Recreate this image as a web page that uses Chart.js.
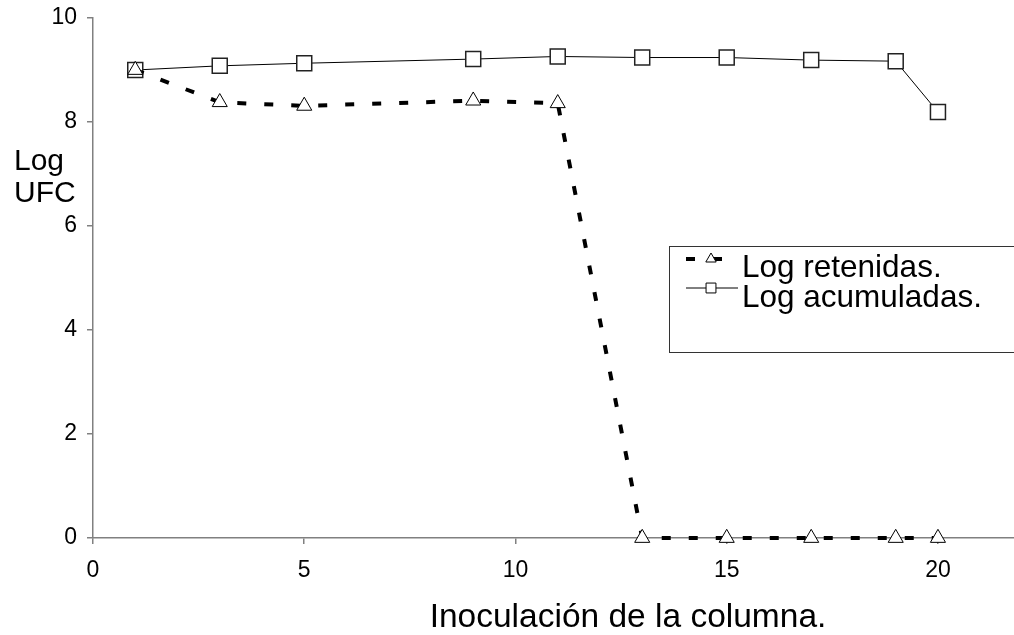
<!DOCTYPE html>
<html>
<head>
<meta charset="utf-8">
<script src="https://cdn.jsdelivr.net/npm/chart.js@4"></script>
<style>
  html, body { margin: 0; padding: 0; background: #fff; }
  canvas { display: block; }
</style>
</head>
<body>
<canvas id="grafico" width="1014" height="635"></canvas>
<script>
// datos
const columnas = [1, 3, 5, 9, 11, 13, 15, 17, 19, 20];
const logRetenidas = [9.0, 8.38, 8.31, 8.41, 8.36, 0, 0, 0, 0, 0];
const logAcumuladas = [9.0, 9.08, 9.13, 9.21, 9.26, 9.24, 9.24, 9.19, 9.17, 8.19];
const ticksX = [0, 5, 10, 15, 20];
const ticksY = [0, 2, 4, 6, 8, 10];
const nombresSeries = ['Log retenidas.', 'Log acumuladas.'];
const tituloX = 'Inoculación de la columna.';
const tituloY = ['Log', 'UFC'];

const fuente = '"Liberation Sans", Arial, sans-serif';
Chart.defaults.font.family = fuente;
Chart.defaults.color = '#000';

function puntos(valores) {
    return columnas.map((c, i) => ({ x: c, y: valores[i] }));
}

// titulos de ejes dibujados a mano (el de X no esta centrado en el area)
const titulos = {
    id: 'titulos',
    afterDraw(chart) {
        const ctx = chart.ctx;
        ctx.save();
        ctx.fillStyle = '#000';
        ctx.textBaseline = 'alphabetic';
        ctx.font = '33.5px ' + fuente;
        ctx.textAlign = 'center';
        ctx.fillText(tituloX, 628, 627);
        ctx.font = '30px ' + fuente;
        ctx.textAlign = 'left';
        tituloY.forEach((t, i) => ctx.fillText(t, 14, 170 + i * 32));
        ctx.restore();
    }
};

// leyenda en recuadro dentro del area del grafico
const leyenda = {
    id: 'leyenda',
    afterDraw(chart) {
        const ctx = chart.ctx;
        ctx.save();
        ctx.fillStyle = '#fff';
        ctx.fillRect(669, 246, 360, 107);
        ctx.strokeStyle = '#333';
        ctx.lineWidth = 1;
        ctx.strokeRect(669.5, 246.5, 360, 106);
        chart.data.datasets.forEach((ds, i) => {
            const y = 259 + i * 29;
            ctx.strokeStyle = ds.borderColor;
            ctx.lineWidth = ds.borderWidth;
            ctx.setLineDash(ds.borderDash || []);
            ctx.beginPath();
            ctx.moveTo(686, y);
            ctx.lineTo(i === 0 ? 722 : 738, y);
            ctx.stroke();
            ctx.setLineDash([]);
            ctx.fillStyle = '#fff';
            ctx.strokeStyle = '#000';
            ctx.lineWidth = 1;
            Chart.helpers.drawPoint(ctx, {
                pointStyle: ds.pointStyle,
                radius: i === 0 ? 6 : 7,
                rotation: 0,
                borderWidth: 1
            }, 711, y);
            ctx.fillStyle = '#000';
            ctx.font = '31.5px ' + fuente;
            ctx.textAlign = 'left';
            ctx.textBaseline = 'alphabetic';
            ctx.fillText(ds.label, 742, 277 + i * 30);
        });
        ctx.restore();
    }
};

const ejeGris = '#808080';

new Chart(document.getElementById('grafico').getContext('2d'), {
    type: 'line',
    data: {
        datasets: [{
            label: nombresSeries[0],
            data: puntos(logRetenidas),
            borderColor: '#000',
            borderWidth: 4,
            borderDash: [9, 18],
            pointStyle: 'triangle',
            pointRadius: 8.7,
            pointBackgroundColor: '#fff',
            pointBorderColor: '#000',
            pointBorderWidth: 1,
            tension: 0,
            clip: false
        }, {
            label: nombresSeries[1],
            data: puntos(logAcumuladas),
            borderColor: '#000',
            borderWidth: 1,
            pointStyle: 'rect',
            pointRadius: 10.6,
            pointBackgroundColor: '#fff',
            pointBorderColor: '#222',
            pointBorderWidth: 1.5,
            tension: 0,
            clip: false
        }]
    },
    options: {
        responsive: false,
        animation: false,
        devicePixelRatio: 1,
        // sin relleno automatico: el eje X llega al borde derecho
        layout: { autoPadding: false, padding: { top: 18, right: 0, left: 0, bottom: 0 } },
        plugins: {
            legend: { display: false },
            tooltip: { enabled: false }
        },
        scales: {
            x: {
                type: 'linear',
                min: 0,
                max: 21.8,
                afterBuildTicks: (s) => { s.ticks = ticksX.map(v => ({ value: v })); },
                afterFit: (s) => {
                    s.height = 97;
                    s.paddingLeft = 0;
                    s.paddingRight = 0;
                },
                grid: { drawOnChartArea: false, tickLength: 6, color: ejeGris, lineWidth: 1.5 },
                border: { color: ejeGris, width: 1.5 },
                ticks: { font: { size: 23 }, padding: 13, maxRotation: 0 }
            },
            y: {
                min: 0,
                max: 10,
                afterBuildTicks: (s) => { s.ticks = ticksY.map(v => ({ value: v })); },
                afterFit: (s) => {
                    s.width = 93;
                    s.paddingTop = 0;
                    s.paddingBottom = 0;
                },
                grid: { drawOnChartArea: false, tickLength: 6, color: ejeGris, lineWidth: 1.5 },
                border: { color: ejeGris, width: 1.5 },
                ticks: { font: { size: 23 }, padding: 10 }
            }
        }
    },
    plugins: [titulos, leyenda]
});
</script>
</body>
</html>
